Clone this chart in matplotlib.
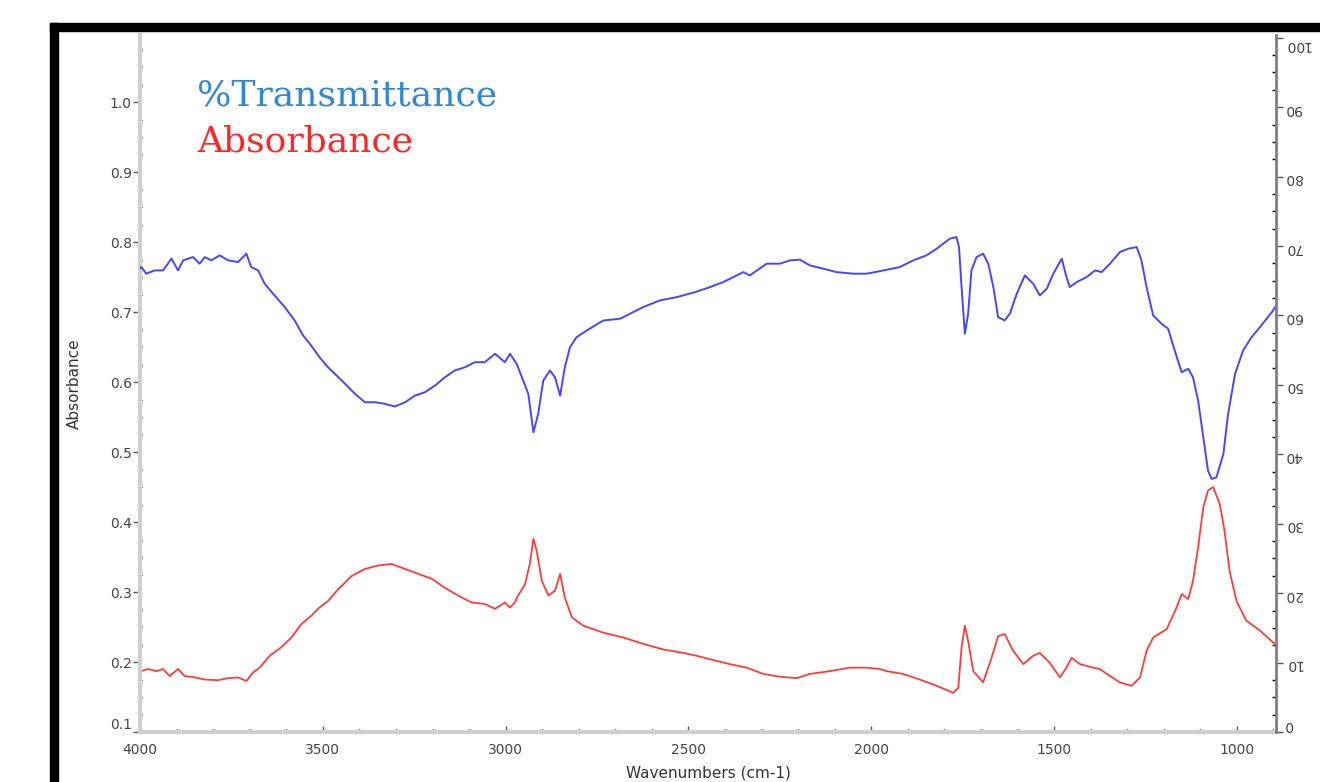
import matplotlib
matplotlib.use("Agg")
import matplotlib.pyplot as plt
from matplotlib.patches import Rectangle
from matplotlib.ticker import MultipleLocator, FixedLocator

# FTIR spectrum: absorbance (left axis) and %T (right axis)
wn_abs = [4000, 3996, 3978, 3955, 3937, 3919, 3896, 3878, 3850, 3823, 3787, 3759,
          3732, 3709, 3691, 3673, 3645, 3614, 3586, 3559, 3532, 3509, 3486, 3458,
          3421, 3385, 3348, 3312, 3275, 3239, 3202, 3166, 3130, 3093, 3057, 3029,
          3002, 2988, 2975, 2966, 2947, 2934, 2924, 2915, 2901, 2883, 2865, 2851,
          2838, 2819, 2788, 2733, 2678, 2624, 2569, 2514, 2478, 2441, 2387, 2341,
          2295, 2250, 2204, 2168, 2113, 2058, 2013, 1976, 1958, 1913, 1867, 1821,
          1776, 1762, 1753, 1744, 1735, 1721, 1694, 1671, 1653, 1635, 1612, 1584,
          1557, 1539, 1512, 1484, 1466, 1452, 1429, 1393, 1375, 1347, 1320, 1288,
          1265, 1247, 1229, 1192, 1165, 1151, 1133, 1120, 1106, 1092, 1079, 1065,
          1047, 1034, 1020, 1001, 974, 937, 901, 893]
absorbance = [0.186, 0.187, 0.190, 0.187, 0.190, 0.180, 0.190, 0.180, 0.178, 0.175, 0.174, 0.177,
              0.178, 0.173, 0.185, 0.192, 0.209, 0.221, 0.235, 0.254, 0.266, 0.278, 0.287, 0.304,
              0.323, 0.333, 0.338, 0.340, 0.333, 0.326, 0.319, 0.306, 0.295, 0.285, 0.283, 0.276,
              0.285, 0.278, 0.285, 0.295, 0.311, 0.340, 0.376, 0.359, 0.316, 0.295, 0.302, 0.326,
              0.292, 0.264, 0.252, 0.242, 0.235, 0.226, 0.218, 0.213, 0.209, 0.204, 0.197, 0.192,
              0.183, 0.179, 0.177, 0.183, 0.187, 0.192, 0.192, 0.190, 0.187, 0.183, 0.175, 0.166,
              0.156, 0.163, 0.221, 0.252, 0.230, 0.187, 0.171, 0.206, 0.237, 0.240, 0.216, 0.197,
              0.209, 0.213, 0.199, 0.178, 0.192, 0.206, 0.197, 0.192, 0.190, 0.180, 0.171, 0.166,
              0.178, 0.216, 0.235, 0.247, 0.278, 0.297, 0.290, 0.316, 0.364, 0.421, 0.445, 0.450,
              0.426, 0.388, 0.330, 0.287, 0.259, 0.245, 0.228, 0.225]

wn_trans = [4000, 3996, 3983, 3960, 3937, 3914, 3896, 3882, 3855, 3837, 3823, 3805,
            3782, 3759, 3732, 3709, 3696, 3677, 3659, 3636, 3604, 3577, 3554, 3532,
            3509, 3486, 3467, 3439, 3412, 3385, 3357, 3330, 3303, 3275, 3248, 3221,
            3193, 3166, 3139, 3111, 3084, 3057, 3029, 3002, 2988, 2970, 2952, 2938,
            2924, 2911, 2897, 2879, 2865, 2851, 2838, 2824, 2806, 2778, 2733, 2687,
            2642, 2624, 2578, 2532, 2482, 2441, 2405, 2377, 2350, 2332, 2286, 2250,
            2222, 2195, 2168, 2131, 2095, 2049, 2013, 1976, 1922, 1885, 1849, 1821,
            1785, 1767, 1760, 1753, 1744, 1735, 1726, 1712, 1694, 1680, 1666, 1653,
            1635, 1621, 1602, 1580, 1557, 1539, 1520, 1502, 1479, 1466, 1457, 1438,
            1411, 1388, 1370, 1347, 1320, 1297, 1274, 1261, 1247, 1229, 1206, 1188,
            1170, 1151, 1133, 1120, 1106, 1092, 1079, 1069, 1056, 1037, 1024, 1005,
            983, 960, 937, 901, 893]
transmittance = [66.8, 66.97, 66.02, 66.49, 66.49, 68.18, 66.49, 67.94, 68.41, 67.46, 68.41, 67.94,
                 68.66, 67.94, 67.69, 68.90, 66.97, 66.49, 64.57, 63.13, 61.20, 59.28, 57.12, 55.68,
                 53.99, 52.55, 51.59, 50.15, 48.71, 47.50, 47.50, 47.27, 46.88, 47.50, 48.46, 48.94,
                 49.91, 51.10, 52.07, 52.55, 53.27, 53.27, 54.48, 53.27, 54.48, 53.04, 50.63, 48.71,
                 43.17, 45.82, 50.63, 52.07, 51.10, 48.46, 52.55, 55.43, 56.87, 57.84, 59.28, 59.53,
                 60.72, 61.20, 62.17, 62.64, 63.36, 64.09, 64.81, 65.53, 66.25, 65.77, 67.46, 67.46,
                 67.94, 68.04, 67.21, 66.74, 66.25, 66.02, 66.02, 66.39, 66.97, 67.94, 68.66, 69.62,
                 71.07, 71.30, 69.85, 64.09, 57.36, 60.25, 66.49, 68.41, 68.90, 67.46, 64.09, 59.76,
                 59.28, 60.25, 63.13, 65.77, 64.57, 62.89, 63.85, 66.02, 68.18, 65.53, 64.09, 64.81,
                 65.53, 66.49, 66.25, 67.46, 69.13, 69.62, 69.85, 67.94, 64.09, 60.00, 58.81, 58.08,
                 54.95, 51.82, 52.31, 51.10, 47.74, 42.45, 37.65, 36.45, 36.68, 40.05, 45.82, 51.59,
                 54.95, 56.87, 58.31, 60.72, 61.4]

abs_ticks = [0.1, 0.2, 0.3, 0.4, 0.5, 0.6, 0.7, 0.8, 0.9, 1.0]
trans_ticks = [0, 10, 20, 30, 40, 50, 60, 70, 80, 90, 100]
wn_ticks = [4000, 3500, 3000, 2500, 2000, 1500, 1000]

W, H = 1320, 782
fig = plt.figure(figsize=(W / 100, H / 100), dpi=100)
fig.patch.set_facecolor("white")

# thick black frame on the left and top
fig.patches.append(Rectangle((50 / W, 0), 8 / W, 1 - 23 / H,
                             transform=fig.transFigure, color="black", zorder=0))
fig.patches.append(Rectangle((50 / W, 1 - 31 / H), 1, 8 / H,
                             transform=fig.transFigure, color="black", zorder=0))

ax = fig.add_axes([140 / W, 1 - 732 / H, 1136 / W, 697 / H])
ax2 = ax.twinx()

ax.plot(wn_abs, absorbance, color="#ff3c3c", lw=1.3)
ax2.plot(wn_trans, transmittance, color="#4646ff", lw=1.4)

ax.set_xlim(4000, 893)
ax.set_ylim(0.1, 1.096)
ax2.set_ylim(0, 100.4)

tick_col = "#555555"
ax.xaxis.set_major_locator(FixedLocator(wn_ticks))
ax.xaxis.set_minor_locator(MultipleLocator(100))
ax.yaxis.set_major_locator(FixedLocator(abs_ticks))
ax.yaxis.set_minor_locator(MultipleLocator(0.025))
ax2.yaxis.set_major_locator(FixedLocator(trans_ticks))
ax2.yaxis.set_minor_locator(MultipleLocator(2.5))

ax.set_xticklabels([str(t) for t in wn_ticks])
ax.set_yticklabels(["%.1f" % t for t in abs_ticks])
ax2.set_yticklabels([str(t) for t in trans_ticks])

for a in (ax, ax2):
    a.spines["top"].set_visible(False)
    a.tick_params(labelsize=10, labelcolor="#444444", color=tick_col)

ax.spines["left"].set_color("#cfcfcf")
ax.spines["left"].set_linewidth(3)
ax.spines["bottom"].set_color("#cfcfcf")
ax.spines["bottom"].set_linewidth(3)
ax.spines["right"].set_visible(False)
ax2.spines["left"].set_visible(False)
ax2.spines["bottom"].set_visible(False)
ax2.spines["right"].set_color("#808080")
ax2.spines["right"].set_linewidth(2)

ax.tick_params(axis="y", which="major", direction="out", length=5, width=1, pad=1)
ax.tick_params(axis="y", which="minor", direction="inout", length=3, width=1)
ax.tick_params(axis="x", which="major", direction="in", length=4, width=1, pad=8)
ax.tick_params(axis="x", which="minor", direction="in", length=2, width=1)
ax2.tick_params(axis="y", which="major", direction="out", length=5, width=1,
                pad=1, labelrotation=180)
ax2.tick_params(axis="y", which="minor", direction="in", length=3, width=1)

# end labels sit inside the axis range
ax.get_yticklabels()[0].set_va("bottom")
ax2.get_yticklabels()[0].set_va("bottom")
ax2.get_yticklabels()[-1].set_va("top")

ax.set_xlabel("Wavenumbers (cm-1)", fontsize=11, color="#333333", labelpad=6)
ax.set_ylabel("Absorbance", fontsize=11, color="#333333", labelpad=20)

fig.text(197 / W, 1 - 95 / H, "%Transmittance", fontsize=26,
         family="DejaVu Serif", color="#2f88d4", va="center", ha="left")
fig.text(197 / W, 1 - 142 / H, "Absorbance", fontsize=26,
         family="DejaVu Serif", color="#ff2626", va="center", ha="left")

plt.savefig("out.png", dpi=100, facecolor="white")
